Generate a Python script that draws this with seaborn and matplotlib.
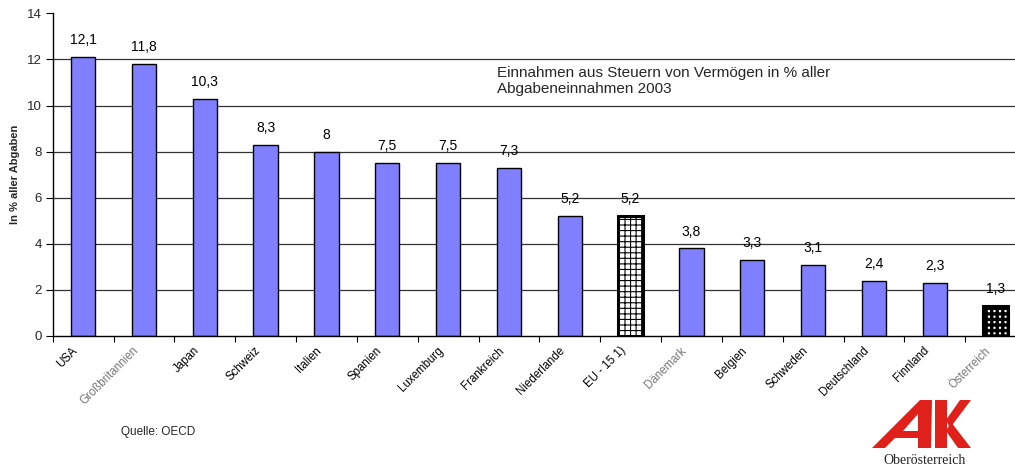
import matplotlib
matplotlib.use("Agg")
import matplotlib.pyplot as plt
import matplotlib.transforms as mtransforms
from matplotlib.patches import Polygon, PathPatch
from matplotlib.path import Path
import seaborn as sns
import pandas as pd
import numpy as np

# Anteil der vermögensbezogenen Steuern an allen Abgaben, 2003
laender = ["USA", "Großbritannien", "Japan", "Schweiz", "Italien", "Spanien",
           "Luxemburg", "Frankreich", "Niederlande", "EU - 15 1)", "Dänemark",
           "Belgien", "Schweden", "Deutschland", "Finnland", "Österreich"]
anteil = [12.1, 11.8, 10.3, 8.3, 8.0, 7.5, 7.5, 7.3, 5.2, 5.2, 3.8, 3.3, 3.1, 2.4, 2.3, 1.3]
grau_beschriftet = ["Großbritannien", "Dänemark", "Österreich"]
y_ticks = [0, 2, 4, 6, 8, 10, 12, 14]

sns.set_theme(style="white")
plt.rcParams["font.family"] = ["Liberation Sans", "DejaVu Sans"]
plt.rcParams["hatch.linewidth"] = 0.8

W, H = 1015, 468
fig = plt.figure(figsize=(W / 100, H / 100), dpi=100)
ax = fig.add_axes([52.7 / W, 1 - 336 / H, (1026 - 52.7) / W, (336 - 13.3) / H])

df = pd.DataFrame({"Land": laender, "Anteil": anteil})
sns.barplot(data=df, x="Land", y="Anteil", color="#8080FF", saturation=1,
            width=0.4, edgecolor="black", linewidth=1.0, ax=ax)

# Hervorgehobene Balken: EU-Durchschnitt und Österreich
for patch, land in zip(ax.patches, laender):
    if land == "EU - 15 1)":
        patch.set_facecolor("white")
        patch.set_hatch("+++")
        patch.set_linewidth(2.2)
    elif land == "Österreich":
        patch.set_facecolor("white")
        patch.set_hatch("+++")
        patch.set_linewidth(2.2)
        if hasattr(patch, "set_hatch_linewidth"):
            patch.set_hatch_linewidth(2.4)

# Wertbeschriftungen
for i, v in enumerate(anteil):
    txt = f"{v:g}".replace(".", ",")
    ax.annotate(txt, (i, v), xytext=(0, 7), textcoords="offset points",
                ha="center", va="bottom", fontsize=10, color="black")

ax.set_ylim(0, 14)
ax.set_xlim(-0.5, len(laender) - 0.5)
ax.set_yticks(y_ticks)
ax.set_yticklabels([str(t) for t in y_ticks], fontsize=9.5)
for t in y_ticks[1:-1]:
    ax.axhline(t, color="#333333", linewidth=0.9, zorder=0)

# Kategorienbeschriftung: schräg, rechtsbündig unter dem Balken
ax.set_xticks(range(len(laender)))
ax.set_xticklabels([])
ax.tick_params(axis="x", which="major", length=0)
label_trans = mtransforms.offset_copy(ax.get_xaxis_transform(), fig=fig,
                                      x=-7, y=-13, units="dots")
for i, land in enumerate(laender):
    ax.text(i, 0, land, transform=label_trans, rotation=45,
            rotation_mode="anchor", ha="right", va="center", fontsize=8.3,
            color="#777777" if land in grau_beschriftet else "black")

ax.set_xticks(np.arange(-0.5, len(laender), 1), minor=True)
ax.tick_params(axis="x", which="minor", length=4, width=0.8, color="black",
               direction="out", bottom=True)
ax.tick_params(axis="y", length=5, width=0.8, color="black", direction="out",
               left=True, pad=3)

ax.set_xlabel("")
ax.set_ylabel("In % aller Abgaben", fontsize=8, fontweight="bold", labelpad=5)
for s in ["top", "right"]:
    ax.spines[s].set_visible(False)
for s in ["left", "bottom"]:
    ax.spines[s].set_color("black")
    ax.spines[s].set_linewidth(1.0)

fig.text(497 / W, 1 - 66 / H,
         "Einnahmen aus Steuern von Vermögen in % aller\nAbgabeneinnahmen 2003",
         ha="left", va="top", fontsize=11, linespacing=1.15)
fig.text(121 / W, 1 - 432 / H, "Quelle: OECD", ha="left", va="center", fontsize=8.5)

# Logo
def px(pts):
    return [(x / W, 1 - y / H) for x, y in pts]

rot = "#E0201B"
a_outer = px([(872, 448), (920, 400), (932, 400), (931, 448), (918, 448),
              (918, 438), (895, 438), (885, 448)])
a_hole = px([(903, 431), (918, 431), (918, 414)])
verts = a_outer + [a_outer[0]] + a_hole + [a_hole[0]]
codes = ([Path.MOVETO] + [Path.LINETO] * (len(a_outer) - 1) + [Path.CLOSEPOLY]
         + [Path.MOVETO] + [Path.LINETO] * (len(a_hole) - 1) + [Path.CLOSEPOLY])
fig.patches.append(PathPatch(Path(verts, codes), facecolor=rot, edgecolor="none",
                             transform=fig.transFigure, figure=fig))
k_stem = px([(935, 400), (947, 400), (947, 448), (935, 448)])
k_upper = px([(946, 420), (960, 400), (971, 400), (950, 428)])
k_lower = px([(946, 431), (951, 422), (971, 448), (958, 448)])
for poly in (k_stem, k_upper, k_lower):
    fig.patches.append(Polygon(poly, closed=True, facecolor=rot, edgecolor="none",
                               transform=fig.transFigure, figure=fig))
fig.text(925 / W, 1 - 460 / H, "Oberösterreich", ha="center", va="center",
         fontsize=10, family=["Liberation Serif", "DejaVu Serif"], color="#222222")

fig.savefig("out.png", dpi=100)
